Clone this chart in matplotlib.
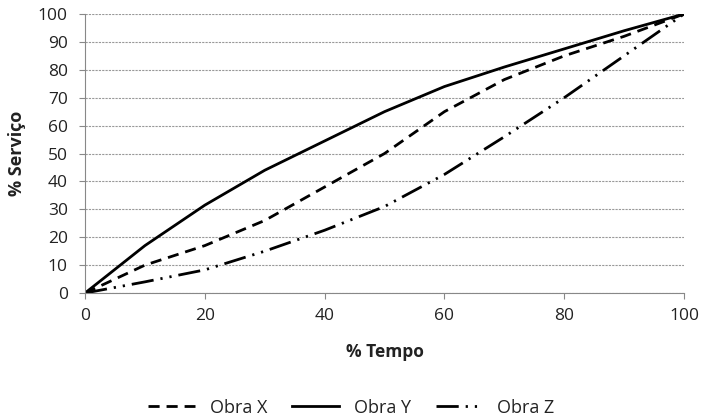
import matplotlib.pyplot as plt

# % Tempo vs % Serviço curves
tempo = [0, 10, 20, 30, 40, 50, 60, 70, 80, 90, 100]
obra_x = [0, 10, 17, 26, 38, 50, 65, 76.5, 85, 92, 100]
obra_y = [0, 17, 31.5, 44, 54.5, 65, 74, 81, 87.5, 94, 100]
obra_z = [0, 4, 8.3, 15, 22.5, 31, 42.5, 56, 70, 85, 100]
xticks = [0, 20, 40, 60, 80, 100]
yticks = list(range(0, 101, 10))

plt.rcParams['font.family'] = ['Open Sans', 'DejaVu Sans']

fig = plt.figure(figsize=(7.03, 4.18), dpi=100)
ax = fig.add_axes([0.121, 0.299, 0.852, 0.6675])

ax.plot(tempo, obra_x, color='black', lw=2, dashes=(4, 2.5), label='Obra X')
ax.plot(tempo, obra_y, color='black', lw=2, label='Obra Y')
ax.plot(tempo, obra_z, color='black', lw=2, dashes=(8, 2.5, 0.8, 2.5, 0.8, 2.5), label='Obra Z')

ax.set_xlim(0, 100)
ax.set_ylim(0, 100)
ax.set_xticks(xticks)
ax.set_yticks(yticks)
ax.tick_params(labelsize=12.5, length=4.5, color='#888888', labelcolor='#222222')
ax.tick_params(axis='x', pad=6)
ax.tick_params(axis='y', pad=8)
ax.grid(axis='y', color='#999999', linestyle=(0, (2, 1)), linewidth=0.8)
ax.set_axisbelow(True)

for s in ['top', 'right']:
    ax.spines[s].set_visible(False)
for s in ['left', 'bottom']:
    ax.spines[s].set_color('#888888')

ax.set_xlabel('% Tempo', fontsize=12.5, fontweight='bold', color='#222222')
ax.xaxis.set_label_coords(0.5, -0.18)
ax.set_ylabel('% Serviço', fontsize=13, fontweight='bold', color='#222222')
ax.yaxis.set_label_coords(-0.098, 0.5)

fig.legend(loc='center', bbox_to_anchor=(0.5, 0.025), ncol=3, frameon=False,
           fontsize=13, handlelength=2.6, columnspacing=1.4, handletextpad=0.8,
           labelcolor='#222222')

fig.savefig('out.png', dpi=100)
